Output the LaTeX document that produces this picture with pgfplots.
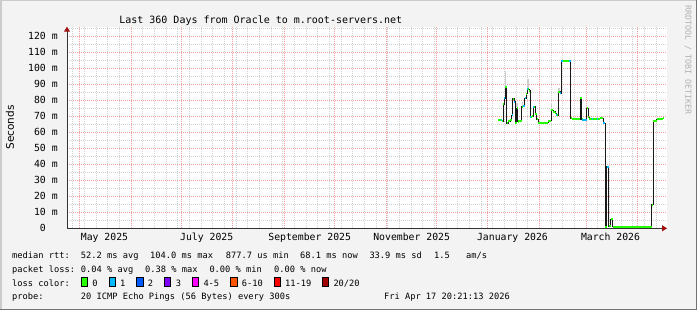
\documentclass[border=0pt]{standalone}
\usepackage{pgfplots}
\usepackage{pgfplotstable}
\pgfplotsset{compat=1.18}
\usepackage{fontspec}
\setmainfont{DejaVu Sans Mono}
\newfontfamily\dvs{DejaVu Sans}
\usetikzlibrary{arrows.meta}
\definecolor{bgc}{HTML}{F3F3F3}
\definecolor{mgrid}{HTML}{F2A0A0}
\definecolor{ngrid}{HTML}{D2D2D2}
\definecolor{arr}{HTML}{A01010}
\definecolor{lA}{HTML}{26FF00}
\definecolor{lB}{HTML}{00B8FF}
\definecolor{lC}{HTML}{0059FF}
\definecolor{lD}{HTML}{7E00FF}
\definecolor{lE}{HTML}{FF00FF}
\definecolor{lF}{HTML}{FF5500}
\definecolor{lG}{HTML}{FF0000}
\definecolor{lH}{HTML}{A10000}
\newcommand\axfont{\fontsize{9.8bp}{11bp}\selectfont}
\newcommand\lgfont{\fontsize{8.7bp}{10bp}\selectfont}

\pgfplotstableread{
x y
251.4 67.5
253.8 67.0
254.4 77.5
255.0 81.2
255.6 88.0
256.4 65.6
257.4 67.0
258.4 67.5
259.4 70.8
260.0 81.0
261.0 79.0
261.6 65.6
262.4 75.0
263.0 66.5
263.4 67.0
265.4 76.0
266.4 76.5
267.2 81.2
268.0 84.0
268.8 87.0
269.8 86.0
270.4 69.8
271.4 70.2
272.4 76.0
273.4 71.4
274.4 68.3
275.4 66.0
281.4 67.3
283.0 73.9
284.4 72.9
285.4 71.9
286.0 70.8
287.4 85.4
288.4 84.4
289.2 104.6
294.8 68.8
295.8 68.0
300.4 81.2
301.4 68.0
301.8 67.5
304.4 75.0
305.4 69.5
305.8 68.0
307.4 68.3
310.4 68.5
312.4 68.8
314.4 65.6
315.4 1.0
316.4 38.5
317.6 1.2
318.8 5.6
320.0 1.0
343.4 14.6
344.4 67.3
346.4 68.0
348.4 68.5
350.4 69.0
351.0 69.0
}\median

\begin{document}
\begin{tikzpicture}
\path[use as bounding box] (0,0) rectangle (697bp,310bp);
\fill[bgc] (0,0) rectangle (697bp,310bp);
\draw[line width=1.5bp, black!20] (0.75bp,0) -- (0.75bp,309.25bp) -- (697bp,309.25bp);
\draw[line width=1.5bp, black!55] (0,0.75bp) -- (696.25bp,0.75bp) -- (696.25bp,310bp);

\begin{axis}[
  at={(67bp,81.7bp)}, anchor=south west,
  scale only axis, width=600bp, height=201.6bp,
  xmin=-7.4, xmax=352.6, ymin=0, ymax=126,
  axis background/.style={fill=white},
  axis x line=bottom, axis y line=left,
  axis line style={black!80, line width=0.9bp, -{Triangle[length=5bp,width=6bp,color=arr]}},
  xtick={0,31,61,92,123,153,184,214,245,276,304,335},
  xticklabels={},
  minor xtick={-4,3,...,352},
  ytick={0,10,...,120},
  yticklabels={{0\hphantom{ m}},{10 m},{20 m},{30 m},{40 m},{50 m},{60 m},{70 m},{80 m},{90 m},{100 m},{110 m},{120 m}},
  minor ytick={5,15,...,125},
  yticklabel style={font=\axfont, anchor=east, inner sep=0pt, xshift=-7bp},
  tick style={draw=none},
  grid=both,
  major grid style={draw=mgrid, dash pattern=on 1bp off 1bp, line width=0.8bp},
  minor grid style={draw=ngrid, dash pattern=on 1bp off 1bp, line width=0.8bp},
]
% smoke
\addplot[draw=none, mark=none, forget plot, error bars/.cd, y dir=plus, y explicit, error mark=none,
  error bar style={draw=gray!40, line width=1.6bp}] coordinates {
(255.6,88) +- (0,10)
(262.6,75) +- (0,3)
(265.8,76) +- (0,3)
(269.2,87) +- (0,6)
(283.4,74) +- (0,4)
(287.8,85.4) +- (0,2)
};
\addplot[draw=black!90, line width=0.9bp, const plot, mark=none, forget plot] table {\median};
\addplot[draw=lA, line width=2bp, jump mark left, mark=none, forget plot] table {\median};
\addplot[draw=lB, line width=2bp, unbounded coords=jump, mark=none, forget plot] coordinates {
(252.8,67.5) (253.8,67.5) (253.8,nan)
(255.0,81.2) (255.6,81.2) (255.6,nan)
(259.4,70.8) (260.0,70.8) (260.0,nan)
(261.0,79.0) (261.6,79.0) (261.6,nan)
(266.4,76.5) (267.2,76.5) (267.2,nan)
(267.2,81.2) (267.8,81.2) (267.8,nan)
(268.8,87.0) (269.4,87.0) (269.4,nan)
(270.4,69.8) (271.0,69.8) (271.0,nan)
(272.4,76.0) (273.0,76.0) (273.0,nan)
(286.0,70.8) (286.8,70.8) (286.8,nan)
(288.4,84.4) (289.2,84.4) (289.2,nan)
(289.2,104.6) (290.0,104.6) (290.0,nan)
(293.8,104.6) (294.8,104.6) (294.8,nan)
(301.8,67.5) (304.4,67.5) (304.4,nan)
(307.4,68.3) (308.4,68.3) (308.4,nan)
(310.4,68.5) (311.4,68.5) (311.4,nan)
(314.4,65.6) (315.4,65.6) (315.4,nan)
(316.4,38.5) (317.6,38.5)
};
\end{axis}

\begin{scope}[x=1bp,y=1bp]
\node[font=\fontsize{10bp}{12bp}\selectfont, anchor=base] at (260.8,286.5) {Last 360 Days from Oracle to m.root-servers.net};
\node[font=\dvs\fontsize{10.5bp}{12bp}\selectfont, rotate=90] at (10,182.5) {Seconds};
\node[font=\fontsize{8.3bp}{10bp}\selectfont, rotate=-90, text=black!30] at (688,250) {RRDTOOL / TOBI OETIKER};
% month labels
\foreach \cx/\t in {104.5/May 2025, 206.7/July 2025, 309.7/September 2025, 411.7/November 2025, 512.5/January 2026, 610.5/March 2026}
  \node[font=\axfont, anchor=base, inner sep=0pt] at (\cx,70) {\t};
% legend
\begin{scope}[every node/.style={font=\lgfont, anchor=base west, inner sep=0pt}]
\node at (12,52) {median rtt:};
\node at (80.7,52) {52.2 ms avg};
\node at (150,52) {104.0 ms max};
\node at (225.7,52) {877.7 us min};
\node at (300,52) {68.1 ms now};
\node at (369.3,52) {33.9 ms sd};
\node at (434,52) {1.5};
\node at (466,52) {am/s};
\node at (12,38) {packet loss:};
\node at (80.7,38) {0.04 \% avg};
\node at (145,38) {0.38 \% max};
\node at (209.3,38) {0.00 \% min};
\node at (274,38) {0.00 \% now};
\node at (12,24) {loss color:};
\foreach \bx/\c/\lx/\t in {81/lA/92.3/0, 109/lB/120/1, 136.7/lC/147.7/2, 164.3/lD/175.7/3, 192.3/lE/203.3/4-5, 230.7/lF/241.7/6-10, 274/lG/285/11-19, 322.3/lH/333.3/{20/20}}{
  \filldraw[fill=\c, draw=black, line width=0.8bp] (\bx,23.6) rectangle (\bx+6.5,32.2);
  \node at (\lx,24) {\t};
}
\node at (12,10.3) {probe:};
\node at (80.7,10.3) {20 ICMP Echo Pings (56 Bytes) every 300s};
\node[anchor=base east] at (510,10.3) {Fri Apr 17 20:21:13 2026};
\end{scope}
\end{scope}
\end{tikzpicture}
\end{document}
